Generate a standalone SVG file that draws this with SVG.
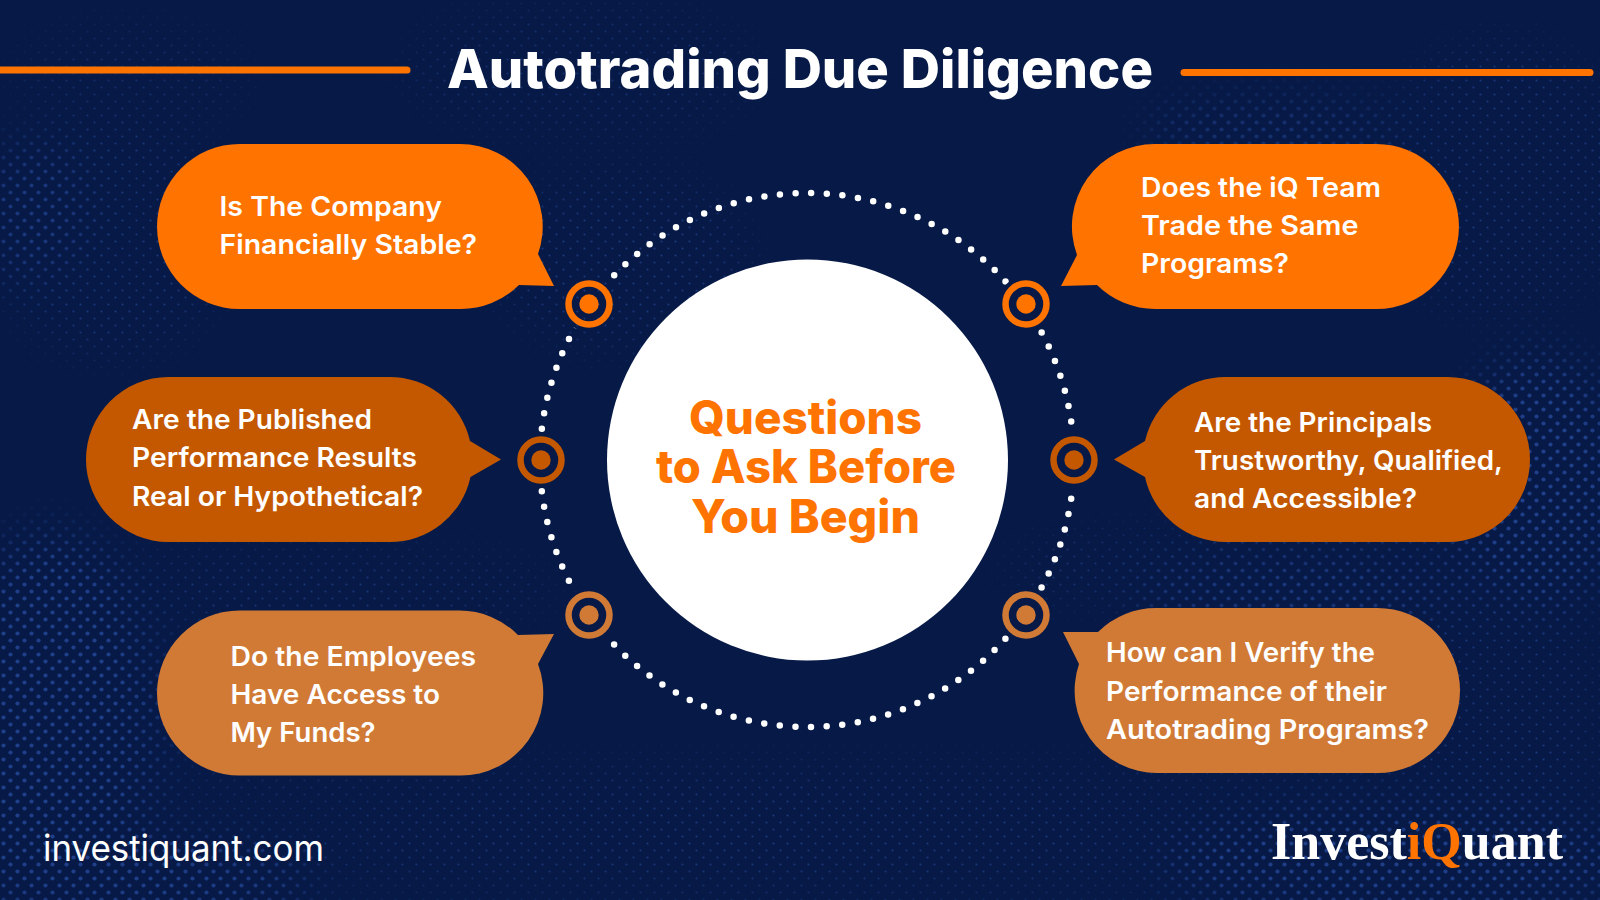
<svg xmlns="http://www.w3.org/2000/svg" width="1600" height="900" viewBox="0 0 1600 900">
<style>
.q{font-family:Inter,"Liberation Sans",sans-serif;font-weight:600;font-size:27px;fill:#fff}
.c{font-family:Inter,"Liberation Sans",sans-serif;font-weight:800;font-size:46px;fill:#ff7300;text-anchor:start}
.ring{fill:none;stroke-width:6.5}
.a{fill:#ff7300}.b{fill:#c45800}.d{fill:#d17a36}
.rule{stroke:#ff7300;stroke-width:7;stroke-linecap:round;fill:none}
</style>
<defs>
<pattern id="p1" width="14" height="14" patternUnits="userSpaceOnUse"><circle cx="3.5" cy="3.5" r="1.1" fill="#1f3f8a"/><circle cx="10.5" cy="10.5" r="1.1" fill="#1f3f8a"/></pattern>
<pattern id="p2" width="14" height="14" patternUnits="userSpaceOnUse"><circle cx="3.5" cy="3.5" r="2.1" fill="#1f3f8a"/><circle cx="10.5" cy="10.5" r="2.1" fill="#1f3f8a"/></pattern>
<filter id="bl" x="-30%" y="-30%" width="160%" height="160%"><feGaussianBlur stdDeviation="22"/></filter>
<mask id="m1" maskUnits="userSpaceOnUse" x="0" y="0" width="1600" height="900"><g fill="#fff" filter="url(#bl)">
<ellipse cx="130" cy="80" rx="120" ry="60" opacity=".5"/><ellipse cx="580" cy="70" rx="180" ry="70" opacity=".6"/><ellipse cx="110" cy="240" rx="120" ry="120" opacity=".8"/>
<ellipse cx="300" cy="590" rx="260" ry="40" opacity=".8"/><ellipse cx="1300" cy="570" rx="300" ry="45" opacity=".8"/><ellipse cx="1500" cy="180" rx="130" ry="140" opacity=".8"/>
<ellipse cx="800" cy="830" rx="460" ry="60" opacity=".6"/><ellipse cx="1500" cy="700" rx="100" ry="150" opacity=".8"/><ellipse cx="620" cy="260" rx="130" ry="90" opacity=".8"/>
<rect x="0" y="760" width="1600" height="140" opacity=".5"/></g></mask>
<mask id="m2" maskUnits="userSpaceOnUse" x="0" y="0" width="1600" height="900"><g fill="#fff" filter="url(#bl)">
<ellipse cx="50" cy="720" rx="110" ry="190"/><ellipse cx="30" cy="210" rx="60" ry="70" opacity=".7"/><ellipse cx="1540" cy="480" rx="90" ry="130"/><ellipse cx="1300" cy="590" rx="170" ry="30" opacity=".8"/><ellipse cx="1270" cy="130" rx="130" ry="30" opacity=".7"/><ellipse cx="1400" cy="860" rx="240" ry="55"/><ellipse cx="130" cy="880" rx="180" ry="40"/></g></mask>
<mask id="gaps" maskUnits="userSpaceOnUse" x="500" y="150" width="610" height="620"><rect x="500" y="150" width="610" height="620" fill="#fff"/><g fill="#000"><circle cx="589" cy="304" r="28"/><circle cx="1026" cy="304" r="28"/><circle cx="541" cy="460" r="28"/><circle cx="1074" cy="460" r="28"/><circle cx="589" cy="615" r="28"/><circle cx="1026" cy="615" r="28"/></g></mask>
</defs>
<rect width="1600" height="900" fill="#071a47"/>
<g id="texture"><rect width="1600" height="900" fill="url(#p1)" mask="url(#m1)"/><rect width="1600" height="900" fill="url(#p2)" mask="url(#m2)"/></g>
<g id="title">
<path class="rule" d="M-5 70H407"/><path class="rule" d="M1184 72.500H1590"/>
<text x="447" y="88" font-family="Inter,'Liberation Sans',sans-serif" font-weight="800" font-size="54" fill="#fff" textLength="706" lengthAdjust="spacingAndGlyphs">Autotrading Due Diligence</text>
</g>
<g id="dotted-ring"><circle cx="807" cy="460" r="267" fill="none" stroke="#fff" stroke-width="6.500" stroke-linecap="round" stroke-dasharray="0 15.68" stroke-dashoffset="-7.500" mask="url(#gaps)"/></g>
<g id="center"><circle cx="807.500" cy="460" r="200.500" fill="#fff"/>
<text class="c" x="689" y="434" textLength="233" lengthAdjust="spacingAndGlyphs">Questions</text>
<text class="c" x="656" y="483" textLength="300" lengthAdjust="spacingAndGlyphs">to Ask Before</text>
<text class="c" x="691" y="533" textLength="229" lengthAdjust="spacingAndGlyphs">You Begin</text></g>
<g id="target-1"><circle class="ring" cx="589" cy="304" r="20.500" stroke="#ff7300"/><circle class="a" cx="589" cy="304" r="9.700"/></g>
<g id="target-2"><circle class="ring" cx="1026" cy="304" r="20.500" stroke="#ff7300"/><circle class="a" cx="1026" cy="304" r="9.700"/></g>
<g id="target-3"><circle class="ring" cx="541" cy="460" r="20.500" stroke="#c45800"/><circle class="b" cx="541" cy="460" r="9.700"/></g>
<g id="target-4"><circle class="ring" cx="1074" cy="460" r="20.500" stroke="#c45800"/><circle class="b" cx="1074" cy="460" r="9.700"/></g>
<g id="target-5"><circle class="ring" cx="589" cy="615" r="20.500" stroke="#d17a36"/><circle class="d" cx="589" cy="615" r="9.700"/></g>
<g id="target-6"><circle class="ring" cx="1026" cy="615" r="20.500" stroke="#d17a36"/><circle class="d" cx="1026" cy="615" r="9.700"/></g>
<g id="bubble-1"><path class="a" d="M239.500 144H459.500A82.500 82.500 0 0 1 538 254L554 286L519 285A82.500 82.500 0 0 1 459.500 309H239.500A82.500 82.500 0 0 1 239.500 144Z"/>
<text class="q" x="219.500" y="216" textLength="222.500" lengthAdjust="spacingAndGlyphs">Is The Company</text>
<text class="q" x="219.500" y="254" textLength="257.500" lengthAdjust="spacingAndGlyphs">Financially Stable?</text></g>
<g id="bubble-2"><path class="a" d="M1155.500 144H1376.500A82.500 82.500 0 0 1 1376.500 309H1155.500A82.500 82.500 0 0 1 1097 285L1061 286L1077 255A82.500 82.500 0 0 1 1155.500 144Z"/>
<text class="q" x="1141" y="197" textLength="240" lengthAdjust="spacingAndGlyphs">Does the iQ Team</text>
<text class="q" x="1141" y="235" textLength="217.500" lengthAdjust="spacingAndGlyphs">Trade the Same</text>
<text class="q" x="1141" y="273" textLength="148" lengthAdjust="spacingAndGlyphs">Programs?</text></g>
<g id="bubble-3"><path class="b" d="M168.500 377H388.500A82.500 82.500 0 0 1 470 441L501 459.500L470.500 477A82.500 82.500 0 0 1 388.500 542H168.500A82.500 82.500 0 0 1 168.500 377Z"/>
<text class="q" x="132" y="429" textLength="240" lengthAdjust="spacingAndGlyphs">Are the Published</text>
<text class="q" x="132" y="467" textLength="285" lengthAdjust="spacingAndGlyphs">Performance Results</text>
<text class="q" x="132" y="506" textLength="291" lengthAdjust="spacingAndGlyphs">Real or Hypothetical?</text></g>
<g id="bubble-4"><path class="b" d="M1225.500 377H1447.500A82.500 82.500 0 0 1 1447.500 542H1225.500A82.500 82.500 0 0 1 1145 477L1114 459.500L1145 441A82.500 82.500 0 0 1 1225.500 377Z"/>
<text class="q" x="1194" y="432" textLength="238" lengthAdjust="spacingAndGlyphs">Are the Principals</text>
<text class="q" x="1194" y="470" textLength="309" lengthAdjust="spacingAndGlyphs">Trustworthy, Qualified,</text>
<text class="q" x="1194" y="508" textLength="223" lengthAdjust="spacingAndGlyphs">and Accessible?</text></g>
<g id="bubble-5"><path class="d" d="M239.500 610.500H459.500A82.500 82.500 0 0 1 518 635L554 634L538 664A82.500 82.500 0 0 1 459.500 775.500H239.500A82.500 82.500 0 0 1 239.500 610.500Z"/>
<text class="q" x="230.500" y="666" textLength="245.500" lengthAdjust="spacingAndGlyphs">Do the Employees</text>
<text class="q" x="230.500" y="704" textLength="209.500" lengthAdjust="spacingAndGlyphs">Have Access to</text>
<text class="q" x="230.500" y="742" textLength="145" lengthAdjust="spacingAndGlyphs">My Funds?</text></g>
<g id="bubble-6"><path class="d" d="M1157.500 608H1377.500A82.500 82.500 0 0 1 1377.500 773H1157.500A82.500 82.500 0 0 1 1079 664L1063 632L1098 632A82.500 82.500 0 0 1 1157.500 608Z"/>
<text class="q" x="1106" y="662" textLength="269" lengthAdjust="spacingAndGlyphs">How can I Verify the</text>
<text class="q" x="1106" y="701" textLength="281" lengthAdjust="spacingAndGlyphs">Performance of their</text>
<text class="q" x="1106" y="739" textLength="323" lengthAdjust="spacingAndGlyphs">Autotrading Programs?</text></g>
<g id="footer">
<text x="43" y="860.500" font-family="Inter,'Liberation Sans',sans-serif" font-weight="400" font-size="36" fill="#fff" textLength="281" lengthAdjust="spacingAndGlyphs">investiquant.com</text>
<text x="1271" y="859" font-family="'Liberation Serif',serif" font-weight="700" font-size="53" fill="#fff" textLength="292" lengthAdjust="spacingAndGlyphs">Invest<tspan fill="#ff7300">iQ</tspan>uant</text>
</g>
</svg>
